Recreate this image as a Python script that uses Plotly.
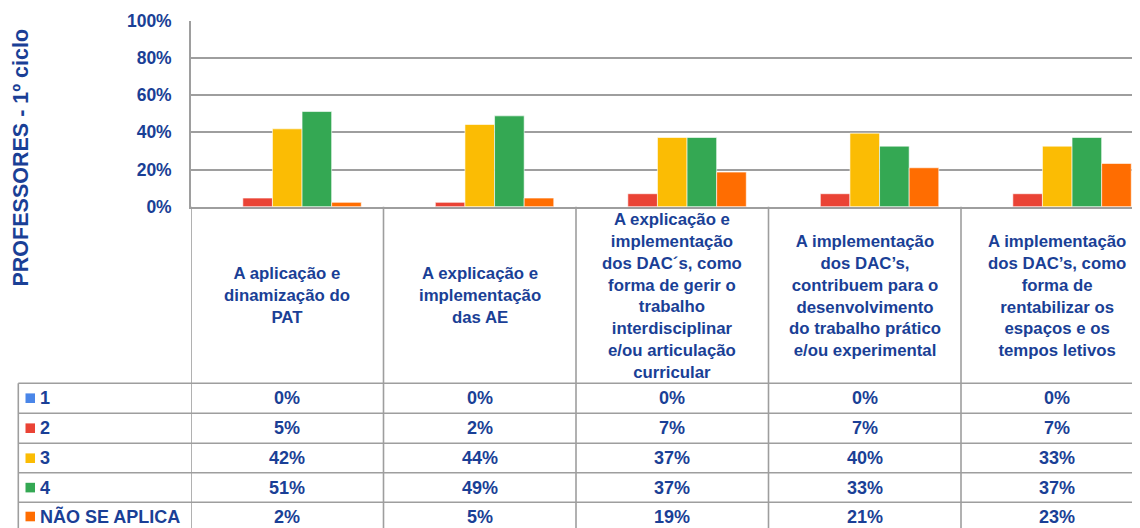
import plotly.graph_objects as go

OFF = 8  # page body margin
W, H = 1140 - OFF, 528 - OFF

categories = [
    "A aplicação e<br>dinamização do<br>PAT",
    "A explicação e<br>implementação<br>das AE",
    "A explicação e<br>implementação<br>dos DAC´s, como<br>forma de gerir o<br>trabalho<br>interdisciplinar<br>e/ou articulação<br>curricular",
    "A implementação<br>dos DAC’s,<br>contribuem para o<br>desenvolvimento<br>do trabalho prático<br>e/ou experimental",
    "A implementação<br>dos DAC’s, como<br>forma de<br>rentabilizar os<br>espaços e os<br>tempos letivos",
]
series_names = ["1", "2", "3", "4", "NÃO SE APLICA"]
vals_1 = [0.0, 0.0, 0.0, 0.0, 0.0]
vals_2 = [4.65, 2.33, 6.98, 6.98, 6.98]
vals_3 = [41.86, 44.19, 37.21, 39.53, 32.56]
vals_4 = [51.16, 48.84, 37.21, 32.56, 37.21]
vals_na = [2.33, 4.65, 18.60, 20.93, 23.26]
series_values = [vals_1, vals_2, vals_3, vals_4, vals_na]
colors = ["#4a86e8", "#ea4335", "#fbbc04", "#34a853", "#ff6d01"]
y_ticks = [0, 0.2, 0.4, 0.6, 0.8, 1.0]
y_title = "PROFESSORES - 1º ciclo"

TXT = "#1a3f96"
LINE = "#9e9e9e"
FONT = "Liberation Sans, Arial, sans-serif"

def px_x(p):
    return (p - OFF) / W

def px_y(p):
    return (H - (p - OFF)) / H

plot_left, plot_top, plot_bottom = 191, 20.7, 206.7
cat_w = 192.5
x_max = -0.5 + (1140 - plot_left) / cat_w

fig = go.Figure()
for name, vals, col in zip(series_names, series_values, colors):
    fig.add_trace(go.Bar(
        x=list(range(len(categories))),
        y=[v / 100 for v in vals],
        name=name,
        marker=dict(color=col, line=dict(color="rgba(255,255,255,0.6)", width=1)),
        showlegend=False,
    ))

annotations = []
shapes = []

# y axis title
annotations.append(dict(
    text=f"<b>{y_title}</b>", x=px_x(20), y=px_y(157.5), xref="paper", yref="paper",
    textangle=-90, showarrow=False, font=dict(size=21.5, color=TXT, family=FONT),
    xanchor="center", yanchor="middle"))

# category header cells
for i, cat in enumerate(categories):
    annotations.append(dict(
        text=f"<b>{cat}</b>", x=i, y=px_y(295.5), xref="x", yref="paper",
        showarrow=False, align="center", xanchor="center", yanchor="middle",
        font=dict(size=16.8, color=TXT, family=FONT)))

# data table rows
row_tops = [383.3, 413.3, 443.3, 472.7, 502.3]
row_h = 29.8
for r, (name, vals, col) in enumerate(zip(series_names, series_values, colors)):
    yc = row_tops[r] + row_h / 2
    if r == 4:
        yc = 516.5
    shapes.append(dict(type="rect", xref="paper", yref="paper",
                       x0=px_x(25.5), x1=px_x(35), y0=px_y(yc - 4.8), y1=px_y(yc + 4.8),
                       fillcolor=col, line=dict(width=0)))
    annotations.append(dict(
        text=f"<b>{name}</b>", x=px_x(37.5), y=px_y(yc), xref="paper", yref="paper",
        showarrow=False, xanchor="left", yanchor="middle",
        font=dict(size=18, color=TXT, family=FONT)))
    for i, v in enumerate(vals):
        annotations.append(dict(
            text=f"<b>{round(v):d}%</b>", x=i, y=px_y(yc), xref="x", yref="paper",
            showarrow=False, xanchor="center", yanchor="middle",
            font=dict(size=18, color=TXT, family=FONT)))

# table grid lines
for yt in row_tops:
    shapes.append(dict(type="line", xref="paper", yref="paper",
                       x0=px_x(18.3), x1=1, y0=px_y(yt), y1=px_y(yt),
                       line=dict(color=LINE, width=1.6)))
shapes.append(dict(type="line", xref="paper", yref="paper",
                   x0=px_x(18.3), x1=px_x(18.3), y0=px_y(row_tops[0]), y1=0,
                   line=dict(color=LINE, width=1.6)))
for i in range(len(categories)):
    shapes.append(dict(type="line", xref="x", yref="paper",
                       x0=i - 0.5, x1=i - 0.5, y0=0, y1=px_y(plot_bottom),
                       line=dict(color=LINE, width=1.6)))

fig.update_layout(
    width=W, height=H,
    margin=dict(l=0, r=0, t=0, b=0),
    paper_bgcolor="white", plot_bgcolor="white",
    barmode="group", bargap=0.231, bargroupgap=0,
    font=dict(family=FONT, color=TXT),
    xaxis=dict(domain=[px_x(plot_left), 1], range=[-0.5, x_max], automargin=False,
               showticklabels=False, showgrid=False, zeroline=False,
               showline=True, linecolor=LINE, linewidth=1.6, ticks=""),
    yaxis=dict(domain=[px_y(plot_bottom), px_y(plot_top)], range=[0, 1], automargin=False,
               tickvals=y_ticks, tickformat=".0%", showgrid=True,
               gridcolor=LINE, gridwidth=1.6, zeroline=False,
               showline=True, linecolor=LINE, linewidth=1.6, ticks="",
               ticklabelstandoff=14,
               tickfont=dict(size=17.5, color=TXT, family=FONT, weight="bold")),
    shapes=shapes, annotations=annotations,
)

fig.write_html("out.html")
